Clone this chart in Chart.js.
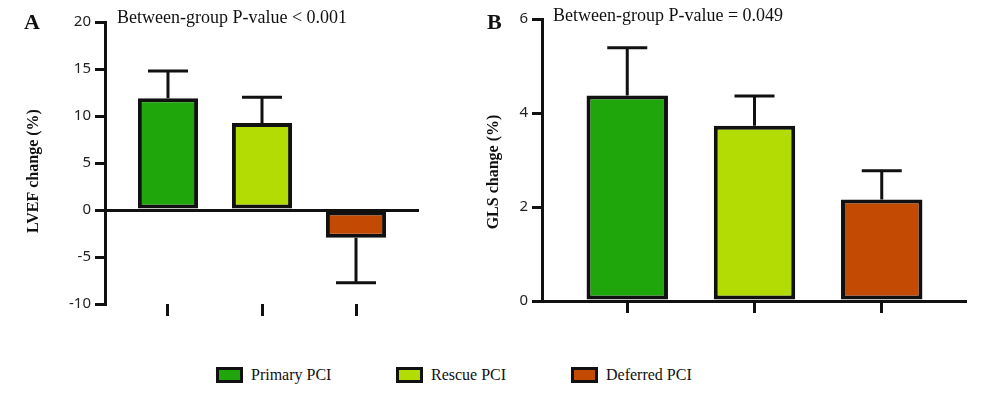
<!DOCTYPE html>
<html>
<head>
<meta charset="utf-8">
<script src="https://cdn.jsdelivr.net/npm/chart.js@4.4.1/dist/chart.umd.min.js"></script>
<style>
  body { margin: 0; background: #fff; }
  #fig { position: relative; width: 1000px; height: 399px; overflow: hidden; }
  .box { position: absolute; top: 0; height: 340px; }
  .panel { position: absolute; font: bold 22px "Liberation Serif", serif; color: #111; }
  .pval { position: absolute; font: 18px "Liberation Serif", serif; color: #111; white-space: nowrap; }
  #legend { position: absolute; top: 366px; left: 0; width: 1000px; height: 20px;
            font: 16px "Liberation Serif", serif; color: #111; }
  .item { position: absolute; top: 0; display: flex; align-items: center; white-space: nowrap; }
  .swatch { width: 21px; height: 10px; border: 3px solid #111; margin-right: 8px; }
</style>
</head>
<body>
<div id="fig">
  <div class="box" style="left:0;width:440px"><canvas id="chartA" width="440" height="340"></canvas></div>
  <div class="box" style="left:460px;width:540px"><canvas id="chartB" width="540" height="340"></canvas></div>
  <div class="panel" style="left:24px;top:9px">A</div>
  <div class="panel" style="left:487px;top:9px">B</div>
  <div class="pval" style="left:117px;top:7px">Between-group P-value &lt; 0.001</div>
  <div class="pval" style="left:553px;top:5px">Between-group P-value = 0.049</div>
  <div id="legend"></div>
</div>
<script>
const categories = ['Primary PCI', 'Rescue PCI', 'Deferred PCI'];
const barColors = ['#1fa60a', '#b3dc05', '#c24a02'];

// panel A: LVEF change (%), mean and one-sided error
const lvefChange = [11.9, 9.25, -2.95];
const lvefError = [2.9, 2.75, 4.8];
const lvefTicks = [-10, -5, 0, 5, 10, 15, 20];

// panel B: GLS change (%)
const glsChange = [4.37, 3.73, 2.16];
const glsError = [1.02, 0.63, 0.61];
const glsTicks = [0, 2, 4, 6];

const ink = '#111';

// draws the error whisker away from zero, with a cap
const errorBars = {
  id: 'errorBars',
  afterDatasetsDraw(chart, args, opts) {
    const ctx = chart.ctx;
    const y = chart.scales.y;
    const meta = chart.getDatasetMeta(0);
    const vals = chart.data.datasets[0].data;
    ctx.save();
    ctx.strokeStyle = ink;
    ctx.lineWidth = 3;
    meta.data.forEach((bar, i) => {
      const v = vals[i].y;
      const end = v >= 0 ? v + opts.errors[i] : v - opts.errors[i];
      const yEnd = y.getPixelForValue(end);
      ctx.beginPath();
      ctx.moveTo(bar.x, bar.y);
      ctx.lineTo(bar.x, yEnd);
      ctx.moveTo(bar.x - 20, yEnd);
      ctx.lineTo(bar.x + 20, yEnd);
      ctx.stroke();
    });
    ctx.restore();
  }
};

function makeChart(id, values, errors, ticks, title, yWidth, pad) {
  return new Chart(id, {
    type: 'bar',
    data: {
      datasets: [{
        data: values.map((v, i) => ({ x: i, y: v })),
        backgroundColor: barColors,
        borderColor: ink,
        borderWidth: 4,
        borderSkipped: false,
        categoryPercentage: 1,
        barPercentage: 0.64
      }]
    },
    options: {
      responsive: false,
      animation: false,
      devicePixelRatio: 1,
      layout: { padding: pad },
      plugins: {
        legend: { display: false },
        tooltip: { enabled: false },
        errorBars: { errors: errors }
      },
      scales: {
        x: {
          type: 'linear',
          min: -0.67,
          max: 2.67,
          offset: false,
          afterBuildTicks: s => { s.ticks = categories.map((c, i) => ({ value: i })); },
          afterFit: s => { s.height = 12; },
          ticks: { display: false },
          border: { display: false },
          grid: { offset: false, drawOnChartArea: false, tickLength: 12, tickColor: ink, lineWidth: 3 }
        },
        y: {
          min: ticks[0],
          max: ticks[ticks.length - 1],
          afterBuildTicks: s => { s.ticks = ticks.map(v => ({ value: v })); },
          afterFit: s => { s.width = yWidth; },
          border: { color: ink, width: 3 },
          grid: {
            color: c => (c.tick && c.tick.value === 0 ? ink : 'rgba(0,0,0,0)'),
            lineWidth: 3,
            tickColor: ink,
            tickLength: 10
          },
          ticks: { color: '#222', padding: 4, font: { family: 'Noto Sans', size: 15 } },
          title: {
            display: true,
            text: title,
            color: ink,
            padding: { top: 24 },
            font: { family: 'Liberation Serif', size: 16, weight: 'bold' }
          }
        }
      }
    },
    plugins: [errorBars]
  });
}

// trailing spaces nudge the rotated titles a little lower, as in the original
makeChart('chartA', lvefChange, lvefError, lvefTicks, 'LVEF change (%)    ', 105,
  { left: 0, top: 22, right: 21, bottom: 24 });
makeChart('chartB', glsChange, glsError, glsTicks, 'GLS change (%)      ', 82,
  { left: 0, top: 19, right: 33, bottom: 27 });

// legend built from the same categories and colours
const legendLeft = [216, 396, 571];
const legend = document.getElementById('legend');
categories.forEach((c, i) => {
  const item = document.createElement('div');
  item.className = 'item';
  item.style.left = legendLeft[i] + 'px';
  const sw = document.createElement('div');
  sw.className = 'swatch';
  sw.style.background = barColors[i];
  const tx = document.createElement('span');
  tx.textContent = c;
  item.appendChild(sw);
  item.appendChild(tx);
  legend.appendChild(item);
});
</script>
</body>
</html>
